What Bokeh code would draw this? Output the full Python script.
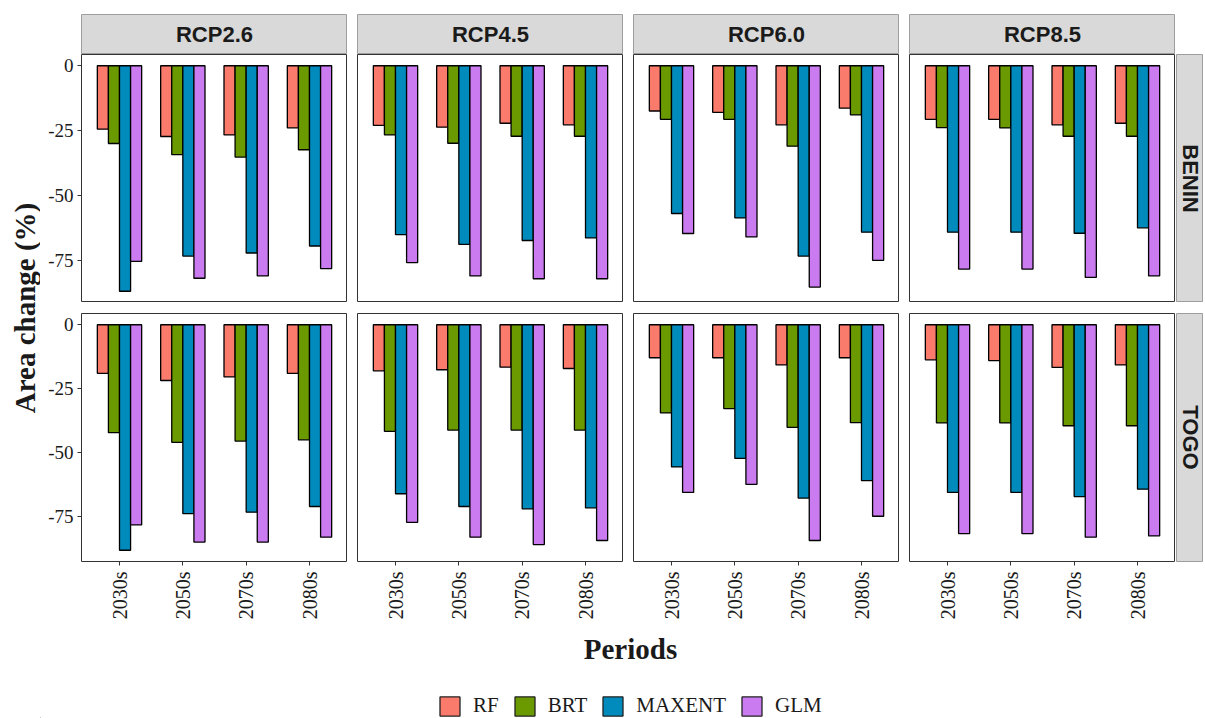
import math
from bokeh.plotting import figure
from bokeh.models import ColumnDataSource, FactorRange, Range1d, FixedTicker, Legend, LegendItem
from bokeh.layouts import row, column
from bokeh.transform import dodge
from bokeh.core.properties import value
from bokeh.embed import file_html
from bokeh.resources import INLINE

# ---------------- data ----------------
periods = ["2030s", "2050s", "2070s", "2080s"]
scenarios = ["RCP2.6", "RCP4.5", "RCP6.0", "RCP8.5"]
countries = ["BENIN", "TOGO"]
models = ["RF", "BRT", "MAXENT", "GLM"]
model_colors = ["#FA7B6C", "#6A9A00", "#008BBC", "#C97BEF"]
y_ticks = [-75, -50, -25, 0]

# values ordered: RCP2.6 (2030s, 2050s, 2070s, 2080s), RCP4.5 (...), RCP6.0 (...), RCP8.5 (...)
benin_rf = [-24.4, -27.2, -26.6, -23.9, -22.9, -23.6, -22.1, -22.7,
            -17.4, -17.9, -22.7, -16.3, -20.6, -20.6, -22.7, -22.1]
benin_brt = [-29.9, -34.2, -35.1, -32.3, -26.6, -29.8, -27.1, -27.1,
             -20.6, -20.6, -30.9, -18.9, -23.8, -23.9, -27.1, -27.1]
benin_maxent = [-86.7, -73.2, -72.0, -69.3, -64.9, -68.7, -67.2, -66.2,
                -56.8, -58.5, -73.2, -64.0, -64.0, -64.0, -64.4, -62.3]
benin_glm = [-75.2, -81.7, -80.8, -78.0, -75.7, -80.8, -81.9, -81.9,
             -64.5, -65.8, -85.1, -74.8, -78.2, -78.2, -81.4, -80.8]

togo_rf = [-19.0, -21.8, -20.4, -19.0, -18.0, -17.6, -16.6, -17.1,
           -12.9, -12.9, -15.7, -12.9, -13.7, -14.0, -16.7, -15.7]
togo_brt = [-42.2, -46.0, -45.5, -45.0, -41.7, -41.2, -41.2, -41.2,
            -34.5, -32.8, -40.1, -38.3, -38.4, -38.4, -39.5, -39.5]
togo_maxent = [-88.2, -73.9, -73.3, -71.1, -66.1, -71.1, -72.0, -71.6,
               -55.6, -52.3, -67.8, -61.0, -65.6, -65.6, -67.2, -64.3]
togo_glm = [-78.3, -85.0, -85.0, -83.1, -77.3, -83.1, -86.0, -84.4,
            -65.6, -62.4, -84.4, -74.9, -81.7, -81.7, -83.1, -82.6]

country_data = {
    "BENIN": [benin_rf, benin_brt, benin_maxent, benin_glm],
    "TOGO": [togo_rf, togo_brt, togo_maxent, togo_glm],
}

# ---------------- layout constants ----------------
PW, PH = 266, 248
GAP = 10
LEFT_AX = 41
STRIP_H, TOP_PAD = 40, 14
ROW_GAP = 11
BOTTOM_AX = 72
RSTRIP_W = 27
BOTTOM_H = 85
YLAB_W = 40
BAR_W = 0.175

SERIF = value("Liberation Serif")
SANS = value("Liberation Sans")
DARK = "#1a1a1a"
STRIP_FILL = "#D9D9D9"
STRIP_LINE = "#9e9e9e"


def strip_fig(text, width, height, mb_left=0, mb_top=0, mb_bottom=0, angle=0.0):
    p = figure(width=width, height=height, x_range=Range1d(0, 1), y_range=Range1d(0, 1),
               min_border_left=mb_left, min_border_right=0, min_border_top=mb_top,
               min_border_bottom=mb_bottom, toolbar_location=None, output_backend="svg",
               x_axis_location=None, y_axis_location=None)
    p.xgrid.visible = False
    p.ygrid.visible = False
    p.background_fill_color = STRIP_FILL
    p.border_fill_color = "white"
    p.outline_line_color = STRIP_LINE
    p.outline_line_width = 1
    p.text(x=[0.5], y=[0.5], text=[text], angle=angle, text_align="center",
           text_baseline="middle", text_font=SANS, text_font_style="bold",
           text_font_size="22px", text_color=DARK)
    return p


def panel(ci, si):
    country = countries[ci]
    first_col = si == 0
    bottom = ci == 1
    series = country_data[country]
    lo = min(min(s) for s in series)
    hi = 0.0
    pad = 0.05 * (hi - lo)
    src = ColumnDataSource(dict(period=periods,
                                **{m: series[k][4 * si:4 * si + 4] for k, m in enumerate(models)}))
    mb_left = LEFT_AX if first_col else GAP
    mb_top = ROW_GAP if bottom else 0
    mb_bottom = BOTTOM_AX if bottom else 0
    xr = FactorRange(factors=periods, range_padding=0.1, range_padding_units="absolute")
    p = figure(width=mb_left + PW, height=mb_top + PH + mb_bottom,
               x_range=xr, y_range=Range1d(lo - pad, hi + pad),
               min_border_left=mb_left, min_border_right=0, min_border_top=mb_top,
               min_border_bottom=mb_bottom, toolbar_location=None, output_backend="svg",
               x_axis_location="below" if bottom else None,
               y_axis_location="left" if first_col else None)
    p.xgrid.visible = False
    p.ygrid.visible = False
    p.outline_line_color = "#333333"
    p.outline_line_width = 1
    p.background_fill_color = "white"
    for k, m in enumerate(models):
        p.vbar(x=dodge("period", (k - 1.5) * BAR_W, range=xr), top=m, bottom=0,
               width=BAR_W, source=src, fill_color=model_colors[k],
               line_color="black", line_width=1.3)
    for ax in p.axis:
        ax.axis_line_color = None
        ax.major_tick_line_color = "#333333"
        ax.major_tick_in = 0
        ax.major_tick_out = 4
        ax.minor_tick_line_color = None
        ax.major_label_text_font = "Liberation Serif"
        ax.major_label_text_color = DARK
    if first_col:
        p.yaxis.ticker = FixedTicker(ticks=y_ticks)
        p.yaxis.major_label_overrides = {t: str(t) for t in y_ticks}
        p.yaxis.major_label_text_font_size = "19px"
        p.yaxis.major_label_standoff = 4
    if bottom:
        p.xaxis.major_label_orientation = math.pi / 2
        p.xaxis.major_label_text_font_size = "20px"
        p.xaxis.major_label_standoff = 6
    return p


# top strips
strip_row = []
for si, s in enumerate(scenarios):
    ml = LEFT_AX if si == 0 else GAP
    strip_row.append(strip_fig(s, ml + PW, TOP_PAD + STRIP_H, mb_left=ml, mb_top=TOP_PAD))

rows = [row(*strip_row)]
for ci, c in enumerate(countries):
    figs = [panel(ci, si) for si in range(4)]
    bottom = ci == 1
    h = (ROW_GAP if bottom else 0) + PH + (BOTTOM_AX if bottom else 0)
    figs.append(strip_fig(c, 1 + RSTRIP_W, h, mb_left=1,
                          mb_top=ROW_GAP if bottom else 0,
                          mb_bottom=BOTTOM_AX if bottom else 0, angle=-math.pi / 2))
    rows.append(row(*figs))

# bottom: x title + legend
total_w = LEFT_AX + 4 * PW + 3 * GAP + 1 + RSTRIP_W
bf = figure(width=total_w, height=BOTTOM_H, x_range=Range1d(0, total_w),
            y_range=Range1d(0, BOTTOM_H), min_border=0, toolbar_location=None,
            output_backend="svg", x_axis_location=None, y_axis_location=None)
bf.xgrid.visible = False
bf.ygrid.visible = False
bf.outline_line_color = None
center_x = LEFT_AX + (4 * PW + 3 * GAP) / 2
bf.text(x=[center_x + 2], y=[BOTTOM_H - 15], text=["Periods"], text_align="center",
        text_baseline="middle", text_font=SERIF, text_font_style="bold",
        text_font_size="29px", text_color=DARK)
# legend proxies (zero-size, outside the visible range)
items = []
for k, m in enumerate(models):
    r = bf.vbar(x=[-50], top=[-50], bottom=[-50], width=0.0, fill_color=model_colors[k],
                line_color="#222222", line_width=1.3)
    items.append(LegendItem(label=m, renderers=[r]))
leg = Legend(items=items, orientation="horizontal", location=(center_x - 191, 0),
             glyph_width=25, glyph_height=24, label_standoff=11, spacing=13,
             padding=0, margin=0, border_line_color=None, background_fill_alpha=0,
             label_text_font="Liberation Serif", label_text_font_size="21px",
             label_text_color=DARK, label_height=24)
bf.add_layout(leg)
rows.append(bf)

# y title
total_h = TOP_PAD + STRIP_H + PH + ROW_GAP + PH + BOTTOM_AX + BOTTOM_H
yl = figure(width=YLAB_W, height=total_h, x_range=Range1d(0, YLAB_W),
            y_range=Range1d(0, total_h), min_border=0, toolbar_location=None,
            output_backend="svg", x_axis_location=None, y_axis_location=None)
yl.xgrid.visible = False
yl.ygrid.visible = False
yl.outline_line_color = None
from_top = TOP_PAD + STRIP_H + (PH + ROW_GAP + PH) / 2
yl.text(x=[24], y=[total_h - from_top], text=["Area change (%)"], angle=math.pi / 2,
        text_align="center", text_baseline="middle", text_font=SERIF,
        text_font_style="bold", text_font_size="29px", text_color=DARK)

layout = row(yl, column(*rows))

open("out.html", "w").write(file_html(layout, INLINE))
